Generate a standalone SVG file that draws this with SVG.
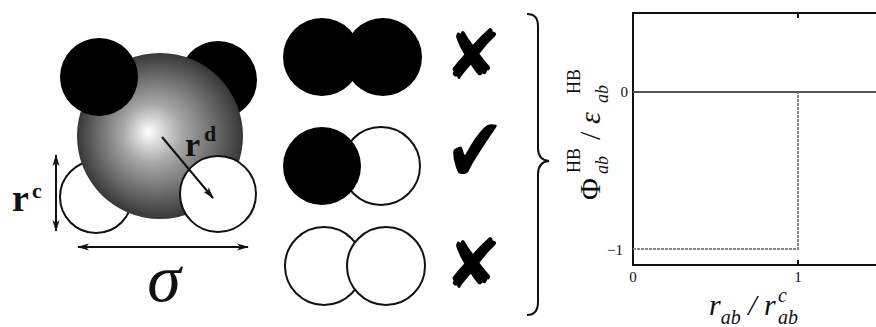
<svg xmlns="http://www.w3.org/2000/svg" width="876" height="327" viewBox="0 0 876 327">
<defs>
<radialGradient id="sph" gradientUnits="userSpaceOnUse" cx="160" cy="136" r="84" fx="148" fy="132">
<stop offset="0" stop-color="#ffffff"/>
<stop offset="0.35" stop-color="#a8a8a8"/>
<stop offset="0.75" stop-color="#626262"/>
<stop offset="1" stop-color="#353535"/>
</radialGradient>
<marker id="ah" viewBox="0 0 12 8" refX="11" refY="4" markerWidth="12" markerHeight="8" markerUnits="userSpaceOnUse" orient="auto-start-reverse">
<path d="M0,0.5 L12,4 L0,7.5 L3,4 Z" fill="#111"/>
</marker>
<style>
.blk{fill:#000;}
.wht{fill:#fff;stroke:#111;stroke-width:2;}
.arr{stroke:#111;stroke-width:2;fill:none;}
.lab{font-family:"Liberation Serif",serif;fill:#111;}
.mark{font-family:"DejaVu Sans",sans-serif;fill:#000;}
.ax{stroke:#111;stroke-width:2;fill:none;}
</style>
</defs>
<rect width="876" height="327" fill="#fff"/>

<g id="molecule">
<circle cx="218" cy="80" r="39" class="blk"/>
<circle cx="96" cy="197" r="36" class="wht"/>
<circle cx="160" cy="136" r="83" fill="url(#sph)"/>
<circle cx="99" cy="77" r="39" class="blk"/>
<circle cx="218" cy="194" r="38" class="wht"/>
</g>

<g id="connectors">
<line x1="162" y1="137" x2="213" y2="198" class="arr" marker-end="url(#ah)"/>
<line x1="56" y1="155" x2="56" y2="231" class="arr" marker-start="url(#ah)" marker-end="url(#ah)"/>
<line x1="78" y1="247" x2="248" y2="247" class="arr" marker-start="url(#ah)" marker-end="url(#ah)"/>
</g>

<g id="labels-left">
<text class="lab" x="185" y="156" font-size="34" font-weight="bold">r</text>
<text class="lab" x="204" y="141" font-size="22" font-weight="bold">d</text>
<text class="lab" x="12" y="211" font-size="38" font-weight="bold">r</text>
<text class="lab" x="32" y="198" font-size="22" font-weight="bold">c</text>
<text class="lab" x="164" y="301" font-size="68" font-style="italic" text-anchor="middle">σ</text>
</g>

<g id="pair-bb">
<circle cx="322" cy="57" r="39" class="blk"/>
<circle cx="383" cy="57" r="39" class="blk"/>
<text class="mark" x="473" y="79" font-size="69" text-anchor="middle">✘</text>
</g>
<g id="pair-bw">
<circle cx="381" cy="166" r="39" class="wht"/>
<circle cx="322" cy="166" r="39" class="blk"/>
<text class="mark" transform="translate(475,182) scale(1,1.27)" x="0" y="0" font-size="72" text-anchor="middle">✔</text>
</g>
<g id="pair-ww">
<circle cx="324" cy="266" r="39" class="wht"/>
<circle cx="386" cy="266" r="39" class="wht"/>
<text class="mark" x="473" y="288" font-size="69" text-anchor="middle">✘</text>
</g>

<g id="brace">
<path d="M527,14 Q538,14 538,26 L538,148 Q538,160 549,161 Q538,162 538,174 L538,302 Q538,315 527,315" class="arr"/>
</g>

<g id="plot">
<path d="M876,13 L633,13 L633,265 L876,265" class="ax"/>
<line x1="633" y1="92" x2="876" y2="92" stroke="#555" stroke-width="2"/>
<path d="M633,249 L798,249 L798,92" fill="none" stroke="#888" stroke-width="2" stroke-dasharray="3 1"/>
<line x1="798" y1="13" x2="798" y2="18" class="ax"/>
<line x1="798" y1="265" x2="798" y2="260" class="ax"/>
<text class="lab" x="628" y="97" font-size="15" text-anchor="end">0</text>
<text class="lab" x="623" y="255" font-size="15" text-anchor="end">−1</text>
<text class="lab" x="633" y="282" font-size="15" text-anchor="middle">0</text>
<text class="lab" x="798" y="282" font-size="15" text-anchor="middle">1</text>
<text class="lab" x="709" y="315" font-size="30" font-style="italic">r<tspan font-size="20" dy="9">ab</tspan><tspan font-size="30" dy="-9"> / r</tspan></text>
<text class="lab" x="778" y="302" font-size="20" font-style="italic">c</text>
<text class="lab" x="778" y="324" font-size="20" font-style="italic">ab</text>
<g transform="translate(600,134) rotate(-90)">
<text class="lab" x="-66" y="0" font-size="30">Φ</text>
<text class="lab" x="-39" y="-20" font-size="18">HB</text>
<text class="lab" x="-40" y="8" font-size="18" font-style="italic">ab</text>
<text class="lab" x="-6" y="0" font-size="30">/</text>
<text class="lab" x="10" y="0" font-size="30" font-style="italic">ε</text>
<text class="lab" x="40" y="-20" font-size="18">HB</text>
<text class="lab" x="31" y="8" font-size="18" font-style="italic">ab</text>
</g>
</g>
</svg>
